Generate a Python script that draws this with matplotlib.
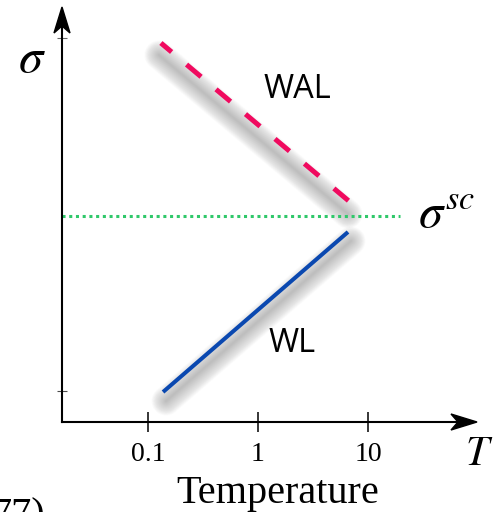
import numpy as np
import matplotlib
matplotlib.use("Agg")
import matplotlib.pyplot as plt
import matplotlib.transforms as mtransforms
from matplotlib.patches import Polygon

plt.rcParams['mathtext.fontset'] = 'stix'

# temperature (log axis) and conductance values, arbitrary units
T_wal = [0.131, 6.86]
sigma_wal = [3.79, 2.20]
T_wl = [0.137, 6.58]
sigma_wl = [0.30, 1.90]
sigma_sc = 2.06
T_sc_end = 19.5
xticks = [0.1, 1, 10]
xtick_labels = ['0.1', '1', '10']
yticks = [0.31, 3.84]

W, H = 493, 512
fig = plt.figure(figsize=(W / 100, H / 100), dpi=100)
ax = fig.add_axes([62 / W, 90 / H, 431 / W, 422 / H])
ax.set_xscale('log')
# one decade spans 110 px, T=1 sits at x=258 px
ax.set_xlim(10 ** ((62 - 258) / 110), 10 ** ((493 - 258) / 110))
ax.set_ylim(0, 4.22)

pink = '#f00a5f'
blue = '#0a48b0'
green = '#2fc86a'


def shadow(x, y, dx, dy):
    # soft drop shadow: stacked translucent strokes of growing width
    tr = mtransforms.offset_copy(ax.transData, fig=fig, x=dx, y=dy, units='dots')
    for w in np.linspace(1, 21, 28):
        ax.plot(x, y, color='0.4', lw=w, alpha=0.014, transform=tr,
                solid_capstyle='round', zorder=1, clip_on=False)


shadow(T_wal, sigma_wal, -2, -12)
shadow(T_wl, sigma_wl, 3, -9)

ax.plot([ax.get_xlim()[0], T_sc_end], [sigma_sc, sigma_sc], color=green, lw=2.2,
        linestyle=(0, (1.0, 1.2)), zorder=2)
ax.plot(T_wal, sigma_wal, color=pink, lw=3.6, linestyle=(1.0, (3.8, 3.9)),
        dash_capstyle='butt', zorder=3)
ax.plot(T_wl, sigma_wl, color=blue, lw=2.9, solid_capstyle='butt', zorder=3)

ax.text(2.26, 3.33, 'WAL', fontsize=23.5, family='Open Sans', ha='center', va='center')
ax.text(2.04, 0.79, 'WL', fontsize=23.5, family='Open Sans', ha='center', va='center')

# axes with arrow heads
for s in ['top', 'right']:
    ax.spines[s].set_visible(False)
x_tip = 10 ** ((477 - 258) / 110)
y_tip = 4.15
ax.spines['left'].set_bounds(0, y_tip - 0.2)
ax.spines['bottom'].set_bounds(ax.get_xlim()[0], 10 ** ((457 - 258) / 110))
for s in ['left', 'bottom']:
    ax.spines[s].set_linewidth(1.5)


def head(x, y, verts):
    tr = mtransforms.Affine2D() + mtransforms.ScaledTranslation(x, y, ax.transData)
    ax.add_patch(Polygon(verts, closed=True, color='black', transform=tr,
                         clip_on=False, zorder=5))


head(ax.get_xlim()[0], y_tip, [(0, 0), (-8, -26), (0, -19), (8, -26)])
head(x_tip, 0, [(0, 0), (-26, -8), (-19, 0), (-26, 8)])

ax.set_xticks(xticks, labels=xtick_labels)
ax.minorticks_off()
ax.tick_params(axis='x', direction='inout', length=15, width=1.1, pad=7,
               labelsize=20, labelfontfamily='Liberation Serif')
ax.set_yticks(yticks, labels=['', ''])
ax.tick_params(axis='y', direction='inout', length=6.5, width=0.8)
yt = ax.yaxis.get_major_ticks()
yt[0].tick1line.set_color(blue)
yt[0].tick1line.set_alpha(0.7)
yt[1].tick1line.set_color(pink)
yt[1].tick1line.set_alpha(0.6)

ax.set_xlabel('Temperature', fontsize=29, family='Liberation Serif', labelpad=6)


def px(x, y):
    return x / W, 1 - y / H


fig.text(*px(18, 72), r'$\sigma$', fontsize=35, ha='left', va='baseline')
fig.text(*px(418, 227), r'$\sigma^{sc}$', fontsize=35, ha='left', va='baseline')
fig.text(*px(465, 465), r'$T$', fontsize=30, ha='left', va='baseline')
fig.text(*px(45, 497), '77)', fontsize=29, family='Liberation Serif', ha='right', va='top')

fig.savefig('out.png', dpi=100)
